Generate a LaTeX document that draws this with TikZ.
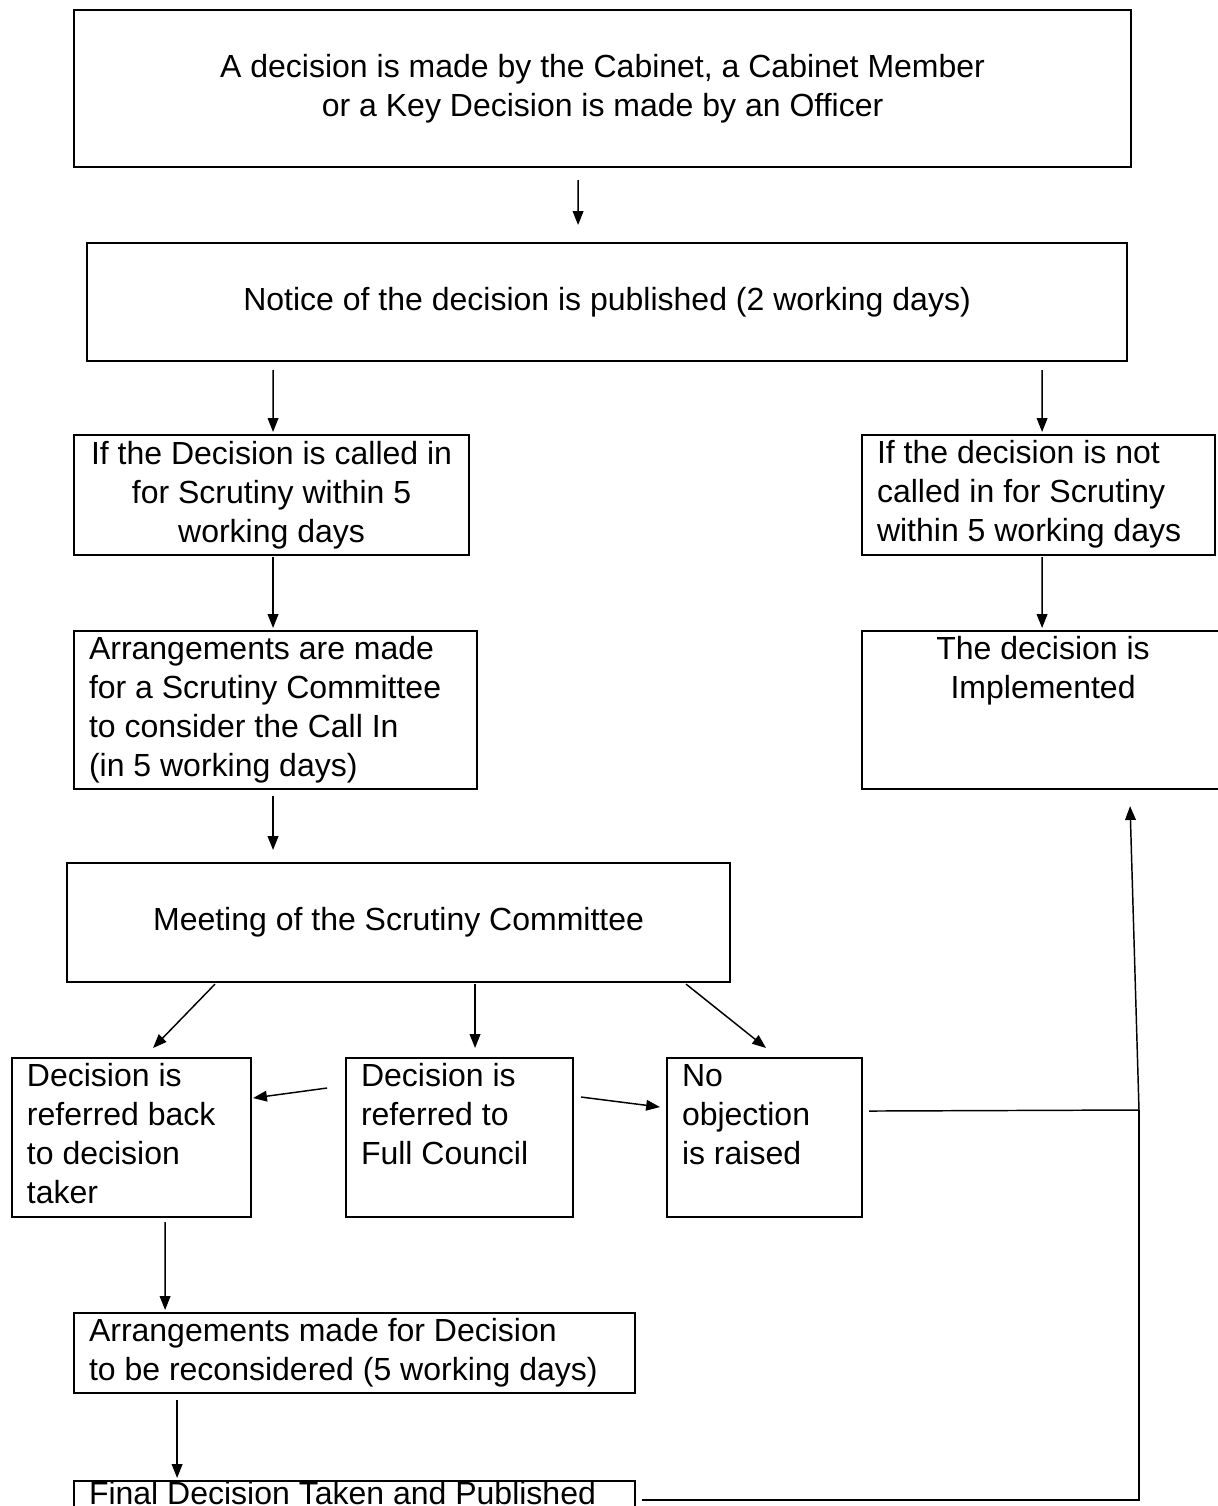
\documentclass[tikz,border=0pt]{standalone}
\usepackage{fontspec}
\setmainfont{Liberation Sans}
\usetikzlibrary{arrows.meta}

\begin{document}
\begin{tikzpicture}
        [x=0.375pt,y=-0.375pt,
         box/.style={draw,line width=0.8pt,anchor=north west,inner xsep=5.6pt,inner ysep=0.3pt,
                     font=\fontsize{12}{14.6}\selectfont},
         cbox/.style={box,align=center},
         lbox/.style={box,align=flush left,
                      execute at begin node=\strut,execute at end node=\strut},
         arr/.style={-{Triangle[length=5.2pt,width=4pt]},line width=0.55pt},
         link/.style={line width=0.55pt}]

        \useasboundingbox (0,0) rectangle (1217,1506);

        \node[cbox,minimum width=396.4pt,minimum height=58.9pt] (cabinet) at (73,9)
          {A decision is made by the Cabinet, a Cabinet Member\\or a Key Decision is made by an Officer};
        \node[cbox,minimum width=390pt,minimum height=44.25pt] (notice) at (86,242)
          {Notice of the decision is published (2 working days)};
        \node[cbox,minimum width=148.1pt,minimum height=45pt] (callin) at (73,434)
          {If the Decision is called in\\for Scrutiny within 5\\working days};
        \node[lbox,text width=121.2pt,minimum height=45pt] (notcalled) at (861,434)
          {If the decision is not\\called in for Scrutiny\\within 5 working days};
        \node[lbox,text width=139.9pt,minimum height=59.25pt] (arrange) at (73,630)
          {Arrangements are made\\for a Scrutiny Committee\\to consider the Call In\\(in 5 working days)};
        \node[cbox,minimum width=135.75pt,minimum height=59.25pt] (implemented) at (861,630)
          {\strut The decision is\\Implemented\\\strut\\\strut};
        \node[cbox,minimum width=248.6pt,minimum height=44.6pt] (meeting) at (66,862)
          {Meeting of the Scrutiny Committee};
        \node[lbox,text width=78.4pt,minimum height=59.6pt] (back) at (11,1057)
          {Decision is\\referred back\\to decision\\taker};
        \node[lbox,text width=73.9pt,minimum height=59.6pt] (council) at (345,1057)
          {Decision is\\referred to\\Full Council\\};
        \node[lbox,text width=61.9pt,minimum height=59.6pt] (noobj) at (666,1057)
          {No\\objection\\is raised\\};
        \node[lbox,text width=199.2pt,minimum height=30pt] (reconsider) at (73,1312)
          {Arrangements made for Decision\\to be reconsidered (5 working days)};
        \node[lbox,text width=199.2pt,execute at begin node={},execute at end node={},
              text height=8.6pt,text depth=25pt] (final) at (73,1480)
          {Final Decision Taken and Published};

        \coordinate (join) at (1139,1110);
        \coordinate (joinlow) at (1139,1500);

        \draw[arr] ([shift={(-24.5,12)}]cabinet.south) -- ([shift={(-29,-17)}]notice.north);
        \draw[arr] ([shift={(-334,8)}]notice.south) -- ([shift={(1.5,-2)}]callin.north);
        \draw[arr] ([shift={(435,8)}]notice.south) -- ([shift={(3.5,-2)}]notcalled.north);
        \draw[arr] ([shift={(1.5,1)}]callin.south) -- ([shift={(-2.5,-2)}]arrange.north);
        \draw[arr] ([shift={(3.5,1)}]notcalled.south) -- ([shift={(-1,-2)}]implemented.north);
        \draw[arr] ([shift={(-2.5,6)}]arrange.south) -- ([shift={(-125.5,-12)}]meeting.north);
        \draw[arr] ([shift={(-183.5,1)}]meeting.south) -- ([shift={(21.5,-9)}]back.north);
        \draw[arr] ([shift={(76.5,1)}]meeting.south) -- ([shift={(15.5,-9)}]council.north);
        \draw[arr] ([shift={(287.5,1)}]meeting.south) -- ([shift={(1.5,-9)}]noobj.north);
        \draw[arr] ([shift={(-18,-49.5)}]council.west) -- ([shift={(1,-39.5)}]back.east);
        \draw[arr] ([shift={(7,-40.5)}]council.east) -- ([shift={(-6,-30.5)}]noobj.west);
        \draw[arr] ([shift={(33.5,4)}]back.south) -- ([shift={(-189.5,-2)}]reconsider.north);
        \draw[arr] ([shift={(-177.5,6)}]reconsider.south) -- ([shift={(-177.5,-2)}]final.north);
        \draw[link] (final.north east |- joinlow) ++(6,0) -- (joinlow) -- (join);
        \draw[link] ([shift={(6,-26.5)}]noobj.east) -- (join);
        \draw[arr] (join) -- ([shift={(87,16)}]implemented.south);
      \end{tikzpicture}
\end{document}
